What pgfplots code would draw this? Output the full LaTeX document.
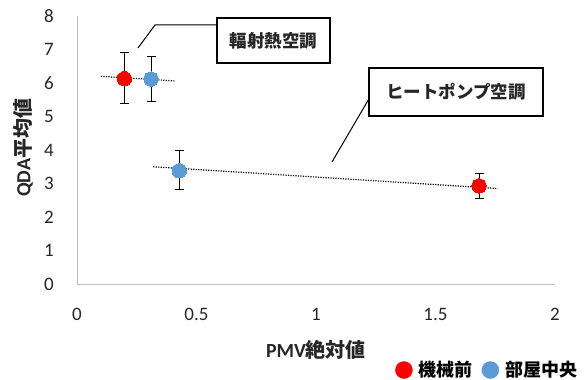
\documentclass[border=0pt]{standalone}
\usepackage{pgfplots}
\pgfplotsset{compat=1.18}
\usepackage{pgfplotstable}
\usepackage{fontspec}
\setmainfont{Carlito}
\newfontfamily\jp{Noto Sans CJK JP}
\definecolor{mred}{HTML}{FF0000}
\definecolor{mblue}{HTML}{5B9BD5}
\definecolor{axgray}{HTML}{BFBFBF}

% QDA mean vs |PMV|, with asymmetric error bars
\pgfplotstableread{
x     y    ep   em
0.198 6.13 0.77 0.73
1.682 2.93 0.36 0.38
}\machinefront
\pgfplotstableread{
x     y    ep   em
0.310 6.12 0.67 0.68
0.428 3.38 0.60 0.57
}\roomcenter

\begin{document}
\begin{tikzpicture}
\useasboundingbox (0,0) rectangle (586bp,380bp);
\begin{axis}[
  at={(77bp,96bp)}, anchor=south west,
  scale only axis, width=478bp, height=268bp,
  xmin=0, xmax=2, ymin=0, ymax=8,
  axis x line=bottom, axis y line=left,
  axis line style={-, axgray, line width=1bp},
  xtick={0,0.5,1,1.5,2}, ytick={0,1,...,8},
  xticklabels={0,0.5,1,1.5,2},
  tick style={draw=none},
  /pgf/number format/assume math mode=true,
  ticklabel style={font=\fontsize{19bp}{22bp}\selectfont, text=black!85},
  yticklabel style={inner sep=0pt, xshift=-21bp},
  xticklabel style={inner sep=0pt, yshift=-22bp},
  xlabel={\bfseries PMV{\jp\bfseries 絶対値}},
  ylabel={\bfseries QDA{\jp\bfseries 平均値}},
  label style={font=\fontsize{20bp}{23bp}\selectfont, text=black!85},
  xlabel style={at={(axis description cs:0.5,-0.246)}, anchor=center},
  ylabel style={at={(axis description cs:-0.113,0.508)}, anchor=center},
  clip=false,
  legend style={at={(axis description cs:0.857,-0.321)}, anchor=center,
    draw=none, fill=none, nodes={inner sep=1bp},
    font=\jp\bfseries\fontsize{18bp}{21bp}\selectfont,
    /tikz/every odd column/.append style={column sep=5bp},
    /tikz/every even column/.append style={column sep=8bp}},
  legend columns=2, legend cell align=left,
]
% dotted linear trend lines
\addplot[forget plot, black, line width=1.2bp, dash pattern=on 1.2bp off 1.3bp]
  coordinates {(0.10,6.20) (0.413,6.06)};
\addplot[forget plot, black, line width=1.2bp, dash pattern=on 1.2bp off 1.3bp]
  coordinates {(0.319,3.50) (1.76,2.85)};
% points with error bars
\addplot[forget plot, mred, only marks, mark=*, mark size=7.2bp,
  mark options={fill=mred, draw=mred, line width=0pt},
  error bars/.cd, y dir=both, y explicit,
  error bar style={black, line width=1bp},
  error mark options={black, line width=1bp, mark size=4.5bp, rotate=90}]
  table[x=x, y=y, y error plus=ep, y error minus=em] {\machinefront};
\addplot[forget plot, mblue, only marks, mark=*, mark size=7.2bp,
  mark options={fill=mblue, draw=mblue, line width=0pt},
  error bars/.cd, y dir=both, y explicit,
  error bar style={black, line width=1bp},
  error mark options={black, line width=1bp, mark size=4.5bp, rotate=90}]
  table[x=x, y=y, y error plus=ep, y error minus=em] {\roomcenter};
\addlegendimage{legend image code/.code={\fill[mred] (0bp,0bp) circle (8.5bp);}}
\addlegendentry{機械前}
\addlegendimage{legend image code/.code={\fill[mblue] (0bp,0bp) circle (8.5bp);}}
\addlegendentry{部屋中央}
\end{axis}
% callouts
\draw[black, line width=1bp] (138bp,332bp) -- (155bp,355bp) -- (217bp,355bp);
\draw[black, line width=1.1bp, fill=white] (217bp,317bp) rectangle (330bp,362bp);
\node[font=\jp\bfseries\fontsize{17.5bp}{20bp}\selectfont, text=black!85] at (273.5bp,339.5bp) {輻射熱空調};
\draw[black, line width=1bp] (332bp,218bp) -- (370bp,283bp);
\draw[black, line width=1.1bp, fill=white] (369bp,264bp) rectangle (543bp,312bp);
\node[font=\jp\bfseries\fontsize{17.5bp}{20bp}\selectfont, text=black!85] at (456bp,288bp) {ヒートポンプ空調};
\end{tikzpicture}
\end{document}
